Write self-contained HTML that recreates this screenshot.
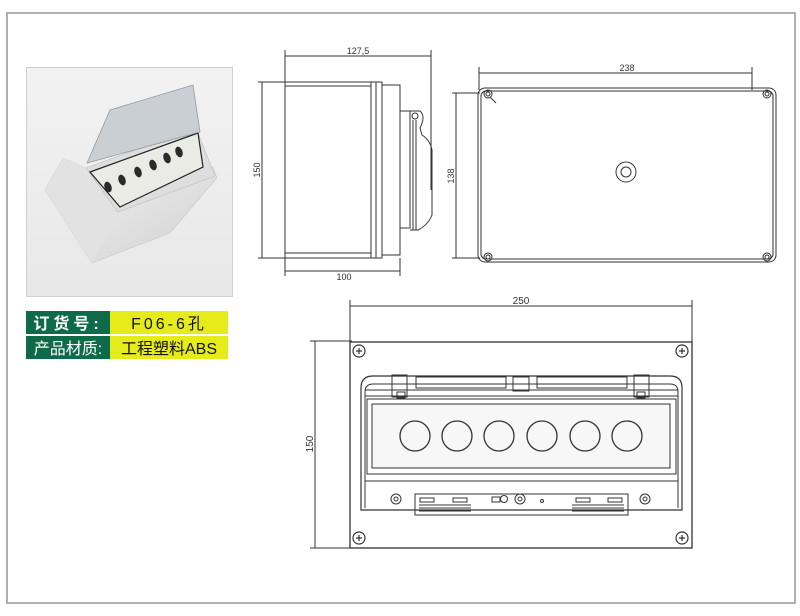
<!DOCTYPE html>
<html><head><meta charset="utf-8"><style>
html,body{margin:0;padding:0;background:#fff;}
body{width:800px;height:616px;position:relative;overflow:hidden;font-family:"Liberation Sans","Noto Sans CJK SC",sans-serif;}
svg{position:absolute;left:0;top:0;}
</style></head><body>
<svg width="800" height="616" viewBox="0 0 800 616" xmlns="http://www.w3.org/2000/svg">
<defs>
<linearGradient id="bg" x1="0" y1="0" x2="0" y2="1"><stop offset="0" stop-color="#f2f2f2"/><stop offset="1" stop-color="#e8e8e8"/></linearGradient>
<linearGradient id="bx" x1="0" y1="0" x2="1" y2="1"><stop offset="0" stop-color="#f6f6f6"/><stop offset="1" stop-color="#cfcfcf"/></linearGradient>
</defs>
<rect x="7" y="13" width="788" height="590" fill="none" stroke="#b0b0b0" stroke-width="2"/>
<!-- photo -->
<rect x="26.5" y="67.5" width="206" height="229" fill="url(#bg)" stroke="#d0d0d0"/>
<polygon points="63,158 45,190 92,263 170,233 217,178 213,167 90,170" fill="url(#bx)" stroke="#c8c8c8" stroke-width="0.6"/>
<polygon points="63,158 90,170 120,207 92,263 45,190" fill="#e2e2e2"/>
<polygon points="86,168 196,128 215,176 118,212" fill="#dedede" stroke="#bbb" stroke-width="0.6"/>
<polygon points="90,172 198,133 203,167 120,207" fill="#ebebe6" stroke="#222" stroke-width="1.2"/>
<polygon points="87,163 110,110 193,85 200,132" fill="#c3cacf" opacity="0.85" stroke="#8a8a8a" stroke-width="0.8"/>
<g fill="#2a2a2a">
<ellipse cx="108" cy="187" rx="3.5" ry="5.5" transform="rotate(-20 108 187)"/>
<ellipse cx="122" cy="180" rx="3.5" ry="5.5" transform="rotate(-20 122 180)"/>
<ellipse cx="138" cy="172" rx="3.5" ry="5.5" transform="rotate(-20 138 172)"/>
<ellipse cx="153" cy="165" rx="3.5" ry="5.5" transform="rotate(-20 153 165)"/>
<ellipse cx="167" cy="158" rx="3.5" ry="5.5" transform="rotate(-20 167 158)"/>
<ellipse cx="179" cy="152" rx="3.5" ry="5.5" transform="rotate(-20 179 152)"/>
</g>
<!-- labels -->
<rect x="26" y="311" width="84" height="23" fill="#0e6b4a"/>
<rect x="110" y="311" width="118" height="23" fill="#e6ec1a"/>
<rect x="26" y="336" width="84" height="23" fill="#0e6b4a"/>
<rect x="110" y="336" width="118" height="23" fill="#e6ec1a"/>
<text x="68" y="329" font-size="16" fill="#fff" text-anchor="middle" letter-spacing="4" font-weight="bold">订货号:</text>
<text x="169" y="329" font-size="16" fill="#111" text-anchor="middle" letter-spacing="3">F06-6孔</text>
<text x="68" y="354" font-size="16" fill="#fff" text-anchor="middle">产品材质:</text>
<text x="169" y="354" font-size="16" fill="#111" text-anchor="middle">工程塑料ABS</text>

<g stroke="#333" fill="none" stroke-width="1">
<!-- side view -->
<line x1="285" y1="56" x2="431" y2="56"/><line x1="285" y1="50" x2="285" y2="83"/><line x1="431" y1="50" x2="431" y2="190"/>
<line x1="262" y1="82" x2="262" y2="258"/><line x1="258" y1="82" x2="286" y2="82"/><line x1="258" y1="258" x2="286" y2="258"/>
<line x1="285" y1="271" x2="400" y2="271"/><line x1="285" y1="258" x2="285" y2="276"/><line x1="400" y1="258" x2="400" y2="276"/>
<rect x="285" y="82" width="86" height="176"/>
<line x1="285" y1="86" x2="371" y2="86"/><line x1="285" y1="253" x2="371" y2="253"/>
<rect x="371" y="82" width="11" height="176"/><line x1="376" y1="82" x2="376" y2="258"/>
<rect x="382" y="85" width="18" height="170"/>
<rect x="400" y="111" width="10" height="117"/>
<path d="M410,111 L420,111 Q426,116 420,128 L422,135 Q430,140 432,150 L432,215 Q428,225 418,230 L410,230"/>
<circle cx="415" cy="116" r="3"/>
<line x1="413" y1="120" x2="413" y2="230"/><line x1="416" y1="120" x2="416" y2="230"/>
<!-- top view -->
<line x1="479" y1="73" x2="752" y2="73"/><line x1="479" y1="67" x2="479" y2="90"/><line x1="752" y1="67" x2="752" y2="90"/>
<line x1="456" y1="93" x2="456" y2="258"/><line x1="452" y1="93" x2="480" y2="93"/><line x1="452" y1="258" x2="480" y2="258"/>
<rect x="478" y="88" width="298" height="174" rx="7"/>
<rect x="481" y="91" width="292" height="168" rx="5"/>
<circle cx="488" cy="94" r="4"/><circle cx="488" cy="94" r="2"/>
<circle cx="767" cy="94" r="4"/><circle cx="767" cy="94" r="2"/>
<circle cx="488" cy="257" r="4"/><circle cx="488" cy="257" r="2"/>
<circle cx="767" cy="257" r="4"/><circle cx="767" cy="257" r="2"/>
<line x1="490" y1="97" x2="496" y2="103"/>
<circle cx="626" cy="172" r="10"/><circle cx="626" cy="172" r="5"/>
<!-- front view -->
<line x1="350" y1="306" x2="692" y2="306"/><line x1="350" y1="300" x2="350" y2="343"/><line x1="692" y1="300" x2="692" y2="343"/>
<line x1="315" y1="341" x2="315" y2="548"/><line x1="310" y1="341" x2="352" y2="341"/><line x1="310" y1="548" x2="352" y2="548"/>
<rect x="350" y="342" width="342" height="206" stroke-width="1.3"/>
<g stroke-width="1.2">
<circle cx="359" cy="351" r="6"/><circle cx="682" cy="351" r="6"/><circle cx="359" cy="538" r="6"/><circle cx="682" cy="538" r="6"/>
<path d="M356,351h6M359,348v6M679,351h6M682,348v6M356,538h6M359,535v6M679,538h6M682,535v6"/>
</g>
<path d="M361,510 L361,388 Q361,376 373,376 L670,376 Q682,376 682,388 L682,510 Z" stroke-width="1.2"/>
<path d="M365,508 L365,392 Q365,384 373,384 L670,384 Q678,384 678,392 L678,508"/>
<line x1="365" y1="390" x2="678" y2="390"/><line x1="365" y1="396" x2="678" y2="396"/>
<rect x="392" y="375" width="15" height="22"/><rect x="397" y="392" width="8" height="6"/>
<rect x="634" y="375" width="15" height="22"/><rect x="637" y="392" width="8" height="6"/>
<rect x="513" y="377" width="16" height="14"/>
<rect x="416" y="377" width="90" height="11"/><rect x="537" y="377" width="90" height="11"/>
<rect x="367" y="399" width="309" height="75"/>
<rect x="372" y="404" width="298" height="64" fill="#f7f7f7"/>
<line x1="365" y1="481" x2="678" y2="481"/>
<circle cx="415" cy="436" r="15" stroke-width="1.3"/><circle cx="457" cy="436" r="15" stroke-width="1.3"/>
<circle cx="499" cy="436" r="15" stroke-width="1.3"/><circle cx="542" cy="436" r="15" stroke-width="1.3"/>
<circle cx="585" cy="436" r="15" stroke-width="1.3"/><circle cx="627" cy="436" r="15" stroke-width="1.3"/>
<circle cx="396" cy="499" r="5"/><circle cx="396" cy="499" r="2"/>
<circle cx="645" cy="499" r="5"/><circle cx="645" cy="499" r="2"/>
<circle cx="520" cy="499" r="5"/><circle cx="520" cy="499" r="2"/>
<rect x="415" y="494" width="213" height="21"/>
<rect x="420" y="498" width="14" height="4"/><rect x="453" y="498" width="14" height="4"/>
<rect x="576" y="498" width="14" height="4"/><rect x="608" y="498" width="14" height="4"/>
<path d="M419,505h52M419,508h52M419,511h52M572,505h52M572,508h52M572,511h52"/>
<rect x="492" y="497" width="8" height="5"/><circle cx="504" cy="499" r="3.5"/>
<circle cx="542" cy="501" r="1.5"/>
</g>
<g font-size="9" fill="#333" font-family="Liberation Sans,sans-serif">
<text x="358" y="54" text-anchor="middle">127,5</text>
<text x="627" y="71" text-anchor="middle">238</text>
<text x="344" y="280" text-anchor="middle">100</text>
<text x="521" y="304" text-anchor="middle" font-size="10">250</text>
<text transform="translate(260,170) rotate(-90)" text-anchor="middle">150</text>
<text transform="translate(454,176) rotate(-90)" text-anchor="middle">138</text>
<text transform="translate(313,444) rotate(-90)" text-anchor="middle" font-size="10">150</text>
</g>
</svg>
</body></html>
